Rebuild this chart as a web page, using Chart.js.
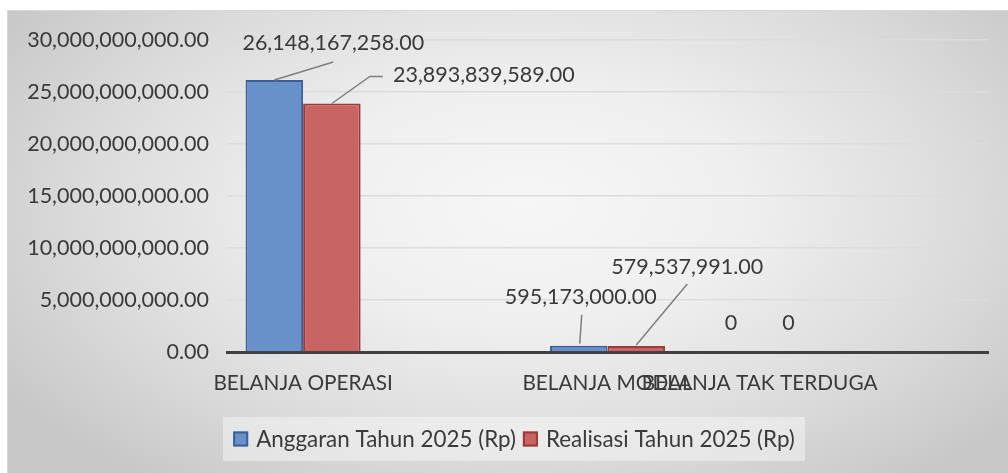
<!DOCTYPE html>
<html>
<head>
<meta charset="utf-8">
<script src="https://cdn.jsdelivr.net/npm/chart.js@4.4.1/dist/chart.umd.min.js"></script>
<style>
    html, body { margin: 0; padding: 0; background: #ffffff; }
    #wrap {
        position: relative;
        width: 1008px;
        height: 473px;
        overflow: hidden;
    }
    #bg {
        position: absolute;
        left: 7px;
        top: 10px;
        width: 1001px;
        height: 463px;
        border-top: 1px solid #d8d8d8;
        border-left: 1px solid #d8d8d8;
        box-sizing: border-box;
        background: radial-gradient(ellipse 62% 75% at 52% 42%, #f6f6f6 0%, #efefef 35%, #dcdcdc 70%, #c8c8c8 100%);
    }
    #chart { position: absolute; left: 0; top: 0; }
</style>
</head>
<body>
<div id="wrap">
    <div id="bg"></div>
    <canvas id="chart" width="1008" height="473"></canvas>
</div>
<script>
// data
const categories = ["BELANJA OPERASI", "", "BELANJA MODAL", "BELANJA TAK TERDUGA", ""];
const anggaran = [26148167258, null, 595173000, 0, null];
const realisasi = [23893839589, null, 579537991, 0, null];
const seriesNames = ["Anggaran Tahun 2025 (Rp)", "Realisasi Tahun 2025 (Rp)"];
const yTicks = [0, 5000000000, 10000000000, 15000000000, 20000000000, 25000000000, 30000000000];

const FONT = "Lato, 'Open Sans', sans-serif";
const TXT = '#3a3a3a';

const fmt = (v) => v === 0 ? '0' : v.toLocaleString('en-US', { minimumFractionDigits: 2, maximumFractionDigits: 2 });

// label placement per dataset / category (offset from bar top center, leader points)
const labelPos = [
    { 0: { dx: 59, dy: -37, line: [[0, 0], [59, -18]] },
      2: { dx: 2, dy: -49, line: [[1, -2], [3, -31]] },
      3: { dx: 0, dy: -29 } },
    { 0: { dx: 152, dy: -28, line: [[0, 0], [38, -27], [51, -27]] },
      2: { dx: 51, dy: -79, line: [[0, -1], [51, -62]] },
      3: { dx: 0, dy: -29 } }
];

const dataLabels = {
    id: 'dataLabels',
    afterDatasetsDraw(chart) {
        const ctx = chart.ctx;
        ctx.save();
        chart.data.datasets.forEach((ds, di) => {
            const meta = chart.getDatasetMeta(di);
            meta.data.forEach((bar, i) => {
                const v = ds.data[i];
                const p = labelPos[di][i];
                if (v === null || !p) return;
                if (p.line) {
                    ctx.strokeStyle = '#7f7f7f';
                    ctx.lineWidth = 1.5;
                    ctx.beginPath();
                    p.line.forEach((pt, k) => {
                        const fn = k === 0 ? 'moveTo' : 'lineTo';
                        ctx[fn](bar.x + pt[0], bar.y + pt[1]);
                    });
                    ctx.stroke();
                }
                ctx.fillStyle = TXT;
                ctx.font = '21.5px ' + FONT;
                ctx.textAlign = 'center';
                ctx.textBaseline = 'middle';
                ctx.fillText(fmt(v), bar.x + p.dx, bar.y + p.dy);
            });
        });
        ctx.restore();
    }
};

// legend drawn by hand so the box sits like the excel one
const legendBox = {
    id: 'legendBox',
    afterDraw(chart) {
        const ctx = chart.ctx;
        const box = { x: 223, y: 417, w: 582, h: 44 };
        ctx.save();
        ctx.fillStyle = 'rgba(255,255,255,0.4)';
        ctx.fillRect(box.x, box.y, box.w, box.h);
        ctx.font = '22.4px ' + FONT;
        ctx.textBaseline = 'middle';
        ctx.textAlign = 'left';
        const sq = 15, gap = 8, between = 7;
        const items = chart.data.datasets.map(ds => ({ text: ds.label, fill: ds.backgroundColor, stroke: ds.borderColor }));
        let total = 0;
        items.forEach((it, k) => {
            it.w = ctx.measureText(it.text).width;
            total += sq + gap + it.w + (k > 0 ? between : 0);
        });
        let x = box.x + (box.w - total) / 2;
        const cy = box.y + box.h / 2;
        items.forEach((it, k) => {
            if (k > 0) x += between;
            ctx.fillStyle = it.fill;
            ctx.fillRect(x, cy - sq / 2, sq, sq);
            ctx.strokeStyle = it.stroke;
            ctx.lineWidth = 2;
            ctx.strokeRect(x + 1, cy - sq / 2 + 1, sq - 2, sq - 2);
            x += sq + gap;
            ctx.fillStyle = TXT;
            ctx.fillText(it.text, x, cy + 1);
            x += it.w;
        });
        ctx.restore();
    }
};

new Chart(document.getElementById('chart'), {
    type: 'bar',
    data: {
        labels: categories,
        datasets: [{
            label: seriesNames[0],
            data: anggaran,
            backgroundColor: '#6791c8',
            borderColor: '#3a5f9c',
            borderWidth: 2,
            categoryPercentage: 0.756,
            barPercentage: 1
        }, {
            label: seriesNames[1],
            data: realisasi,
            backgroundColor: '#c86462',
            borderColor: '#9c3a38',
            borderWidth: 2,
            categoryPercentage: 0.756,
            barPercentage: 1
        }]
    },
    options: {
        responsive: false,
        animation: false,
        layout: { padding: { left: 0, right: 20, top: 40, bottom: 0 } },
        plugins: {
            legend: { display: false },
            tooltip: { enabled: false }
        },
        scales: {
            x: {
                grid: { display: false, drawTicks: false },
                border: { display: true, color: '#404040', width: 3 },
                ticks: {
                    autoSkip: false,
                    maxRotation: 0,
                    minRotation: 0,
                    padding: 19,
                    color: TXT,
                    font: { family: FONT, size: 20.8 }
                },
                afterFit(scale) { scale.height = 121; }
            },
            y: {
                min: 0,
                max: 30000000000,
                afterBuildTicks(scale) { scale.ticks = yTicks.map(v => ({ value: v })); },
                grid: { color: '#dcdcdc', lineWidth: 1.5, drawTicks: false },
                border: { display: false },
                ticks: {
                    padding: 18,
                    color: TXT,
                    font: { family: FONT, size: 21.5 },
                    callback: (v) => v.toLocaleString('en-US', { minimumFractionDigits: 2, maximumFractionDigits: 2 })
                },
                afterFit(scale) { scale.width = 227; }
            }
        }
    },
    plugins: [dataLabels, legendBox]
});
</script>
</body>
</html>
